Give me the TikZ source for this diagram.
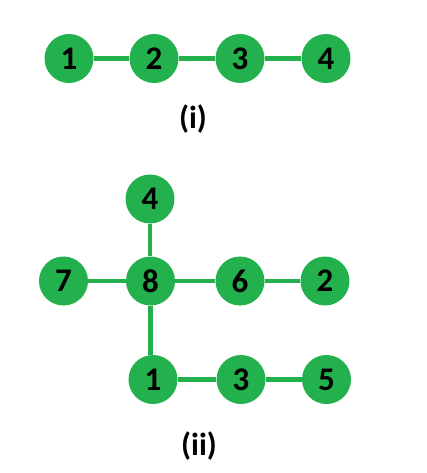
\documentclass[tikz,border=0pt]{standalone}
\usepackage{fontspec}
\setmainfont{Carlito}
\definecolor{pgreen}{RGB}{34,177,76}
\begin{document}
\begin{tikzpicture}[x=1pt,y=-1pt,
  vert/.style={circle,fill=pgreen,minimum size=49pt,inner sep=0pt,font=\fontsize{33}{33}\selectfont\bfseries,text=black},
  edge/.style={draw=pgreen,line width=4.5pt},
  captext/.style={font=\fontsize{32}{32}\selectfont\bfseries,text=black,inner sep=0pt}]
\useasboundingbox (0,0) rectangle (426,473);
% (i)
\node[vert] (a1) at (69,58.5) {1};
\node[vert] (a2) at (154,58.5) {2};
\node[vert] (a3) at (240,58.5) {3};
\node[vert] (a4) at (326,58.5) {4};
\draw[edge] (a1) -- (a2);
\draw[edge] (a2) -- (a3);
\draw[edge] (a3) -- (a4);
\node[captext] (ci) at (193,119) {(i)};
% (ii)
\node[vert] (b4) at (150,199) {4};
\node[vert] (b7) at (63.5,281) {7};
\node[vert] (b8) at (150.5,281) {8};
\node[vert] (b6) at (240,281) {6};
\node[vert] (b2) at (325,281) {2};
\node[vert] (b1) at (153,379.5) {1};
\node[vert] (b3) at (241,379.5) {3};
\node[vert] (b5) at (326.5,379.5) {5};
\draw[edge] (b4) -- (b4 |- b8.north);
\draw[edge] (b7) -- (b8);
\draw[edge] (b8) -- (b6);
\draw[edge] (b6) -- (b2);
\draw[edge] (b8) -- (b8 |- b1.north);
\draw[edge] (b1) -- (b3);
\draw[edge] (b3) -- (b5);
\node[captext] (cii) at (199,446) {(ii)};
\end{tikzpicture}
\end{document}
